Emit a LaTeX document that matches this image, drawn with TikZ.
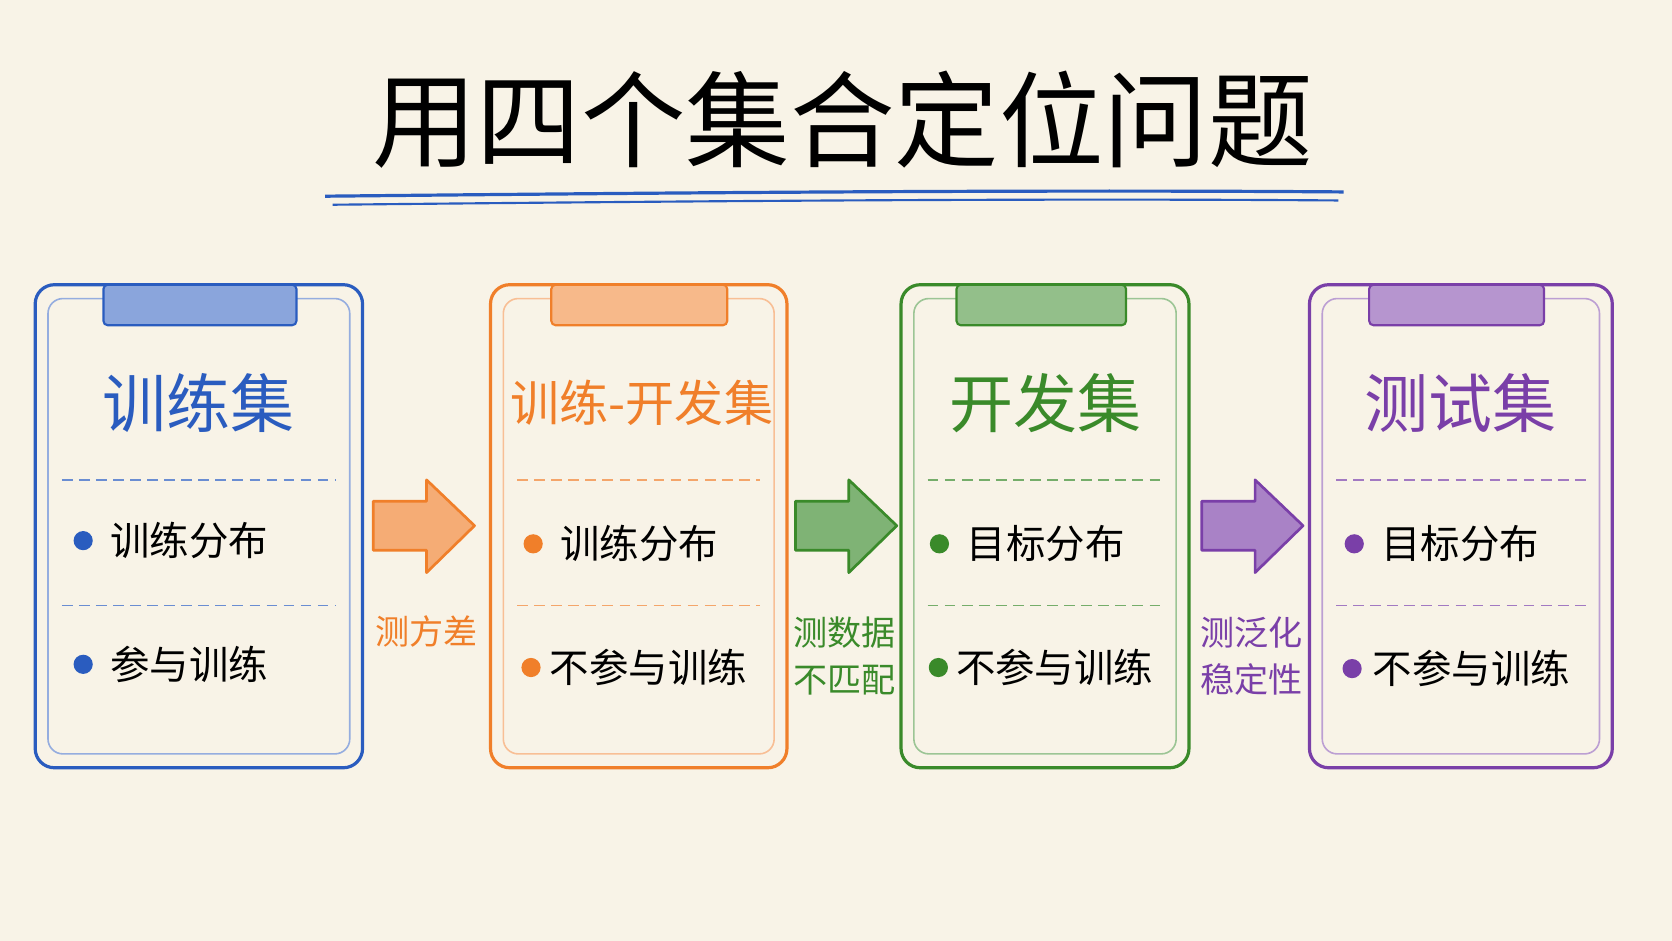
\documentclass[tikz,border=0pt]{standalone}
\usepackage{fontspec}
\setmainfont{Noto Sans CJK SC}
\begin{document}
\begin{tikzpicture}[x=1pt,y=-1pt,
  box/.style={draw=#1,line width=3pt,rounded corners=18pt},
  inbox/.style={draw=#1!50,line width=1.5pt,rounded corners=14pt},
  tab/.style={draw=#1,fill=#1!55,line width=2pt,rounded corners=4pt},
  head/.style={text=#1,font=\fontsize{60}{70}\selectfont},
  item/.style={font=\fontsize{37}{44}\selectfont,anchor=west},
  dot/.style={circle,fill=#1,inner sep=0pt,minimum size=18pt},
  sep/.style={draw=#1!70,dashed,line width=1.5pt,dash pattern=on 10pt off 6pt},
  arr/.style={draw=#1,fill=#1!65,line width=2.5pt,line join=round},
  lab/.style={text=#1,font=\fontsize{32}{44}\selectfont,align=center}]
\definecolor{bg}{HTML}{F8F3E7}
\definecolor{cb}{HTML}{2A5CBF}
\definecolor{co}{HTML}{F07F2A}
\definecolor{cg}{HTML}{3A8A2A}
\definecolor{cp}{HTML}{7A3FA8}
\fill[bg] (0,0) rectangle (1568,882);
\useasboundingbox (0,0) rectangle (1568,882);
\node[font=\fontsize{98}{104}\selectfont] (title) at (790,112) {用四个集合定位问题};
\draw[cb,line width=3pt] (305,184) .. controls (700,180) and (1000,178) .. (1260,180);
\draw[cb,line width=2pt] (312,192) .. controls (700,188) and (1000,186) .. (1255,188);
% boxes
\foreach \xa/\xb/\ta/\tb/\c/\h/\nm in {33/340/97/278/cb/训练集/b1,845/1115/897/1056/cg/开发集/b3,1228/1512/1284/1448/cp/测试集/b4,460/738/517/682/co/{}/b2}{
  \draw[box=\c] (\xa,267) rectangle (\xb,720);
  \draw[inbox=\c] (\xa+12,280) rectangle (\xb-12,707);
  \draw[tab=\c] (\ta,267) rectangle (\tb,305);
  \node[head=\c] (\nm) at ({(\xa+\xb)/2},378) {\h};
  \draw[sep=\c] (\xa+25,450) -- (\xb-25,450);
  \draw[sep=\c] (\xa+25,568) -- (\xb-25,568);
}
\node[head=co,font=\fontsize{46}{50}\selectfont] (b2h) at (602,378) {训练-开发集};
\node[dot=cb] (d1) at (78,507) {}; \node[item] (t1) at (100,507) {训练分布};
\node[dot=cb] (d2) at (78,623) {}; \node[item] (t2) at (100,623) {参与训练};
\node[dot=co] (d3) at (500,510) {}; \node[item] (t3) at (522,510) {训练分布};
\node[dot=co] (d4) at (498,626) {}; \node[item] (t4) at (512,626) {不参与训练};
\node[dot=cg] (d5) at (881,510) {}; \node[item] (t5) at (903,510) {目标分布};
\node[dot=cg] (d6) at (880,626) {}; \node[item] (t6) at (893,626) {不参与训练};
\node[dot=cp] (d7) at (1270,510) {}; \node[item] (t7) at (1292,510) {目标分布};
\node[dot=cp] (d8) at (1268,627) {}; \node[item] (t8) at (1284,627) {不参与训练};
% arrows
\foreach \xs/\c in {350/co,746/cg,1127/cp}{
  \draw[arr=\c] (\xs,470) -- (\xs+50,470) -- (\xs+50,450) -- (\xs+95,493) -- (\xs+50,537) -- (\xs+50,516) -- (\xs,516) -- cycle;
}
\node[lab=co] (l1) at (400,592) {测方差};
\node[lab=cg] (l2) at (792,615) {测数据\\不匹配};
\node[lab=cp] (l3) at (1174,615) {测泛化\\稳定性};
\end{tikzpicture}
\end{document}
